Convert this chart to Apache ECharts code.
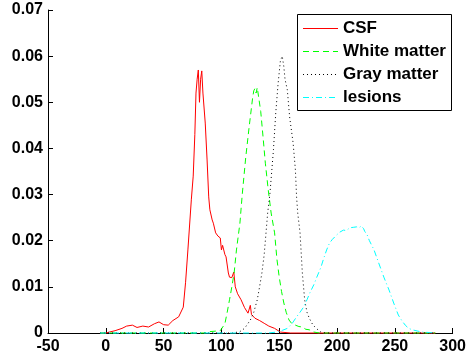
<!DOCTYPE html>
<html>
<head>
<meta charset="utf-8">
<script src="https://cdn.jsdelivr.net/npm/echarts@6/dist/echarts.min.js"></script>
<style>
  html, body { margin: 0; padding: 0; background: #fff; }
  #chart { width: 469px; height: 358px; }
</style>
</head>
<body>
<div id="chart"></div>
<script>
const seriesNames = ['CSF', 'White matter', 'Gray matter', 'lesions']

const xTicks = [-50, 0, 50, 100, 150, 200, 250, 300]
const yTickLabels = ['0', '0.01', '0.02', '0.03', '0.04', '0.05', '0.06', '0.07']

const csf = [[-5, 0], [0, 0], [3, 0.0002], [8, 0.0005], [14, 0.001], [18, 0.0015], [23, 0.0017], [27, 0.0012],
    [32, 0.0015], [37, 0.0013], [42, 0.002], [46, 0.0024], [50, 0.0018], [54, 0.0017], [58, 0.0027], [63, 0.0035],
    [67, 0.0056], [69, 0.011], [71, 0.018], [74, 0.029], [75.6, 0.034], [77, 0.043], [78, 0.052], [79, 0.055],
    [80, 0.057], [81, 0.05], [82, 0.055], [83, 0.0568], [84, 0.052], [86, 0.0455], [87.6, 0.0375], [89, 0.0295],
    [90, 0.0267], [92, 0.0245], [93, 0.0238], [95, 0.0217], [97, 0.021], [99, 0.0206], [100, 0.018], [101, 0.019],
    [103, 0.017], [104, 0.0165], [106, 0.013], [107, 0.0121], [109, 0.012], [110.7, 0.0132], [112, 0.010],
    [114, 0.0085], [117, 0.0072], [120, 0.0055], [123, 0.0043], [125, 0.006], [126, 0.004], [129, 0.0032],
    [133, 0.0027], [137, 0.0021], [141, 0.0015], [146, 0.001], [151, 0.0002], [160, 0], [285, 0]]

const whiteMatter = [[-5, 0], [85, 0], [90, 0.0003], [99, 0.0005], [103, 0.002], [105, 0.0045], [107, 0.0072],
    [109, 0.010], [111, 0.013], [113, 0.018], [116, 0.0238], [118, 0.030], [121, 0.038], [124, 0.0447],
    [127, 0.051], [128, 0.0525], [129, 0.053], [130, 0.052], [131, 0.0532], [134, 0.048], [136, 0.0425],
    [138, 0.0368], [140.5, 0.031], [143, 0.026], [146, 0.0217], [148, 0.016], [150, 0.0121], [152, 0.009],
    [154, 0.0065], [156, 0.0045], [158.5, 0.0028], [161, 0.002], [164, 0.0017], [167, 0.0014], [170, 0.0013],
    [173, 0.0008], [176, 0.0007], [180, 0.0002], [185, 0], [285, 0]]

const grayMatter = [[-5, 0], [110, 0], [116, 0.0003], [120, 0.001], [125, 0.0028], [128, 0.0045], [131, 0.0072],
    [133, 0.010], [135, 0.013], [137, 0.017], [138, 0.020], [140, 0.026], [142, 0.0303], [145, 0.0397],
    [147, 0.0477], [149, 0.054], [151, 0.059], [152.6, 0.060], [154, 0.0577], [155, 0.055], [157, 0.0527],
    [159, 0.0468], [162, 0.0412], [164, 0.0353], [165, 0.0295], [166, 0.026], [168, 0.0217], [170, 0.013],
    [172, 0.0072], [174, 0.0045], [176, 0.0032], [179, 0.0018], [182, 0.001], [186, 0.0002], [190, 0], [285, 0]]

const lesions = [[-5, 0], [140, 0], [148, 0.0002], [153, 0.0006], [157, 0.001], [161, 0.002], [165, 0.0035],
    [168, 0.0045], [171, 0.0056], [174, 0.0072], [176.5, 0.0087], [180, 0.0105], [182.5, 0.0121], [186, 0.0142],
    [188.5, 0.0162], [191, 0.018], [193.5, 0.0195], [196, 0.0203], [199.5, 0.0212], [202, 0.0218], [205.5, 0.0223],
    [208, 0.0222], [211, 0.0228], [214, 0.0229], [217, 0.023], [219, 0.0228], [221, 0.0232], [223, 0.0226],
    [224, 0.022], [226, 0.0213], [228, 0.020], [232, 0.018], [236, 0.0152], [240.5, 0.0121], [245, 0.0093],
    [249, 0.0065], [253, 0.0039], [256, 0.0027], [259, 0.0017], [262, 0.001], [265, 0.0007], [270, 0.0004],
    [274, 0.0002], [280, 0.0001], [285, 0]]

const seriesData = [csf, whiteMatter, grayMatter, lesions]
const colors = ['#ff0000', '#00ff00', '#000000', '#00ffff']
const dashes = ['solid', [6, 4], [1, 3], [6, 3, 1, 3]]

const font = 'Liberation Sans, Arial, Helvetica, sans-serif'

const chart = echarts.init(document.getElementById('chart'))

// legend box drawn by hand so each sample keeps its own dash pattern
const legendBox = {x: 297.5, y: 14.5, w: 154, h: 96}
const legendRows = [28.5, 51.5, 74.5, 97.5]
const legendGraphics = [{
    type: 'rect',
    shape: {x: legendBox.x, y: legendBox.y, width: legendBox.w, height: legendBox.h},
    style: {fill: '#fff', stroke: '#000', lineWidth: 1},
    z: 100
}]
seriesNames.forEach((n, i) => {
    legendGraphics.push({
        type: 'line',
        shape: {x1: 303, y1: legendRows[i], x2: 338, y2: legendRows[i]},
        style: {stroke: colors[i], lineWidth: 1, lineDash: dashes[i] === 'solid' ? null : dashes[i]},
        z: 101
    })
    legendGraphics.push({
        type: 'text',
        x: 343,
        y: legendRows[i],
        style: {text: n, fill: '#000', font: 'bold 17px ' + font, verticalAlign: 'middle'},
        z: 101
    })
})

chart.setOption({
    animation: false,
    backgroundColor: '#fff',
    grid: {left: 48, right: 11.5, top: 10, bottom: 25},
    graphic: legendGraphics,
    xAxis: {
        type: 'value',
        min: xTicks[0],
        max: xTicks[xTicks.length - 1],
        interval: 50,
        splitLine: {show: false},
        axisLine: {onZero: false, lineStyle: {color: '#000', width: 1}},
        axisTick: {inside: true, length: 5, lineStyle: {color: '#000'}},
        axisLabel: {margin: 6, fontFamily: font, fontWeight: 'bold', fontSize: 16, color: '#000'}
    },
    yAxis: {
        type: 'value',
        min: 0,
        max: 0.07,
        interval: 0.01,
        splitLine: {show: false},
        axisLine: {show: true, onZero: false, lineStyle: {color: '#000', width: 1}},
        axisTick: {show: true, inside: true, length: 5, lineStyle: {color: '#000'}},
        axisLabel: {
            margin: 5,
            fontFamily: font,
            fontWeight: 'bold',
            fontSize: 16,
            color: '#000',
            formatter: function (v) {
                return yTickLabels[Math.round(v * 100)]
            }
        }
    },
    series: seriesNames.map((n, i) => ({
        name: n,
        type: 'line',
        data: seriesData[i],
        symbol: 'none',
        clip: false,
        lineStyle: {color: colors[i], width: 1, type: dashes[i]}
    }))
})
</script>
</body>
</html>
